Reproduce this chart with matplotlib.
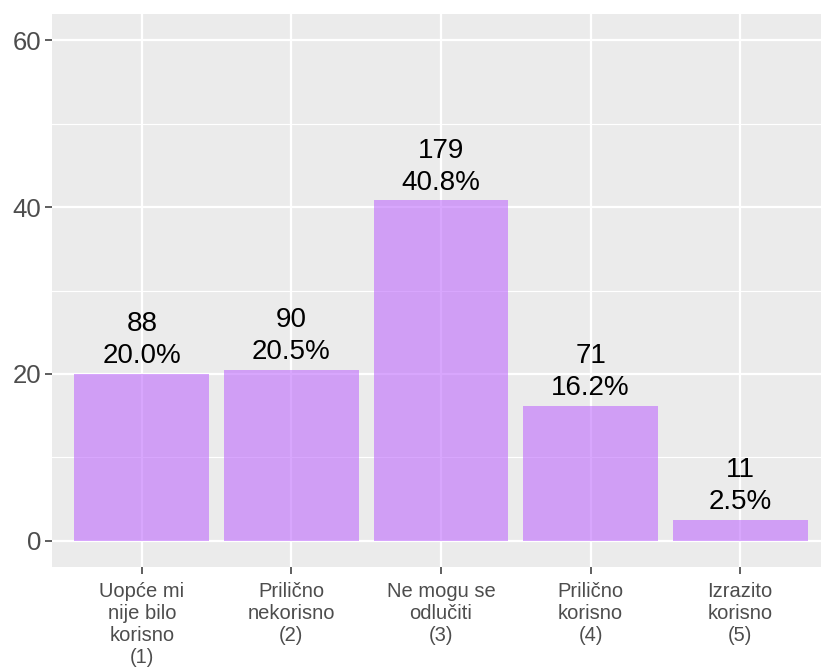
import matplotlib.pyplot as plt
import numpy as np

plt.rcParams['font.family'] = ['Liberation Sans', 'DejaVu Sans']

# data
categories = ['Uopće mi\nnije bilo\nkorisno\n(1)', 'Prilično\nnekorisno\n(2)',
              'Ne mogu se\nodlučiti\n(3)', 'Prilično\nkorisno\n(4)', 'Izrazito\nkorisno\n(5)']
counts = [88, 90, 179, 71, 11]
percents = [20.0, 20.5, 40.8, 16.2, 2.5]
yticks = [0, 20, 40, 60]

x = np.arange(1, len(categories) + 1)

fig = plt.figure(figsize=(8.21, 6.69), dpi=100)
# panel runs past the right edge (cropped like the original)
ax = fig.add_axes([52/821, 102/669, 778/821, 553/669])
ax.set_facecolor('#EBEBEB')

ax.bar(x, percents, width=0.9, color='#BE6BFC', alpha=0.6, zorder=3)

for xi, c, p in zip(x, counts, percents):
    ax.annotate('%d\n%.1f%%' % (c, p), (xi, p), xytext=(0, 3.5), textcoords='offset points',
                ha='center', va='bottom', fontsize=20, linespacing=1.3, color='black', zorder=4)

ax.set_xlim(0.4, 5.6)
ax.set_ylim(-3.15, 63.15)
ax.set_xticks(x)
ax.set_xticklabels(categories, fontsize=14.5, color='#4D4D4D', linespacing=1.2)
ax.set_yticks(yticks)
ax.set_yticklabels([str(t) for t in yticks], fontsize=18.5, color='#4D4D4D')
ax.set_yticks([10, 30, 50], minor=True)

ax.grid(which='major', color='white', linewidth=1.6, zorder=0)
ax.grid(which='minor', axis='y', color='white', linewidth=0.8, zorder=0)
ax.set_axisbelow(True)
ax.tick_params(which='major', length=5, width=1.1, color='#333333')
ax.tick_params(axis='x', which='major', pad=6)
ax.tick_params(axis='y', which='major', pad=3)
ax.tick_params(which='minor', length=0)
for s in ax.spines.values():
    s.set_visible(False)

fig.savefig('out.png', dpi=100)
